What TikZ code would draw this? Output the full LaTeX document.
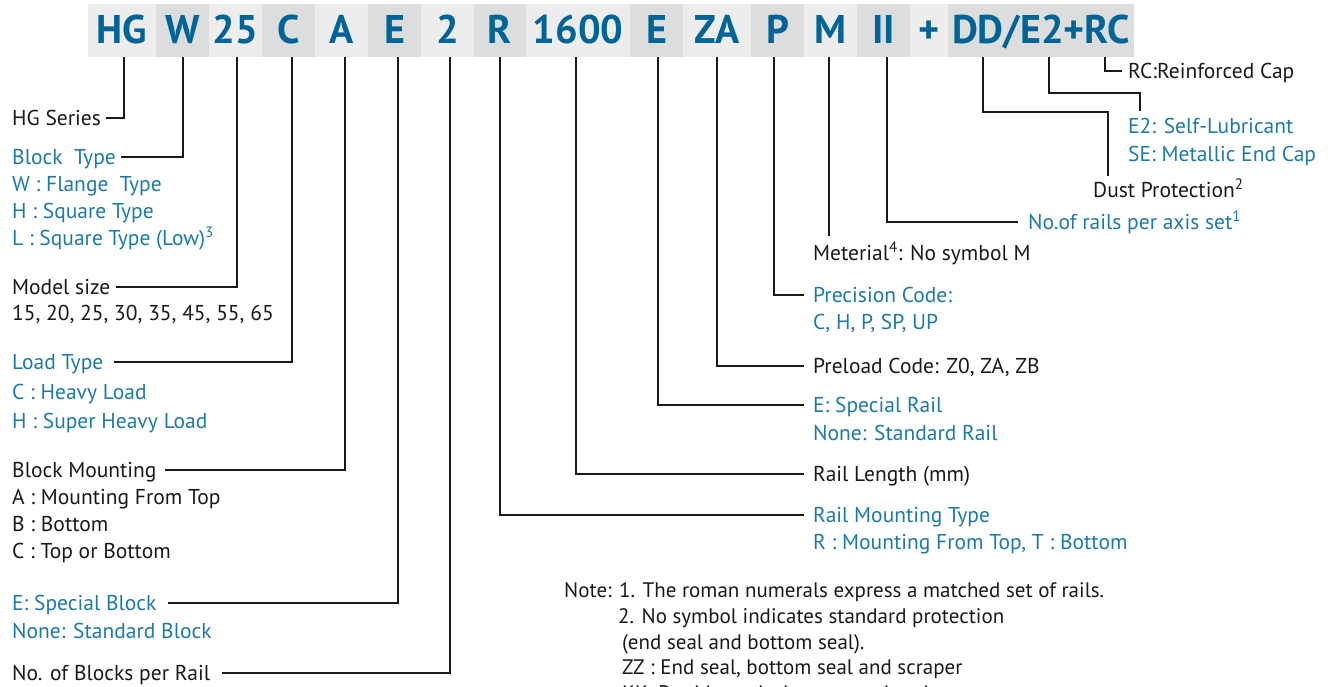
\documentclass[tikz,border=0pt]{standalone}
\usepackage{fontspec}
\newfontfamily\labfont{PT Sans}
\usetikzlibrary{calc}
\definecolor{hblue}{RGB}{0,101,150}
\definecolor{lblue}{RGB}{28,122,168}
\definecolor{boxlight}{RGB}{237,237,237}
\definecolor{boxdark}{RGB}{220,221,221}
\definecolor{ink}{RGB}{25,25,25}
\tikzset{
  hbox/.style={inner sep=0pt, minimum height=53pt, text height=28pt, text depth=3pt,
    font=\labfont\bfseries\fontsize{40}{44}\selectfont, text=hblue},
  lt/.style={fill=boxlight}, dk/.style={fill=boxdark},
  lbl/.style={inner sep=0pt, text height=15pt, text depth=0pt,
    font=\labfont\fontsize{21.5}{25}\selectfont, text=ink},
  bl/.style={lbl, text=lblue},
  note/.style={lbl, font=\labfont\fontsize{21}{25}\selectfont},
  conn/.style={draw=ink, line width=1.3pt},
}
\begin{document}
\begin{tikzpicture}[x=1pt,y=-1pt]
\useasboundingbox (0,0) rectangle (1341,686);
\begin{scope}
\clip (0,0) rectangle (1341,686);
% header boxes
\node[hbox,lt,minimum width=68pt] (bHG) at (122,30.5) {HG};
\node[hbox,dk,minimum width=53pt] (bW) at (182.5,30.5) {W};
\node[hbox,lt,minimum width=53pt] (b25) at (235.5,30.5) {25};
\node[hbox,dk,minimum width=53pt] (bC) at (288.5,30.5) {C};
\node[hbox,lt,minimum width=53pt] (bA) at (341.5,30.5) {A};
\node[hbox,dk,minimum width=53pt] (bE) at (394.5,30.5) {E};
\node[hbox,lt,minimum width=53pt] (b2) at (447.5,30.5) {2};
\node[hbox,dk,minimum width=52pt] (bR) at (500,30.5) {R};
\node[hbox,lt,minimum width=104pt] (b1600) at (578,30.5) {1600};
\node[hbox,dk,minimum width=53pt] (bRE) at (656.5,30.5) {E};
\node[hbox,lt,minimum width=68pt] (bZA) at (717,30.5) {ZA};
\node[hbox,dk,minimum width=53pt] (bP) at (777.5,30.5) {P};
\node[hbox,lt,minimum width=53pt] (bM) at (830.5,30.5) {M};
\node[hbox,dk,minimum width=53pt] (bII) at (883.5,30.5) {II};
\node[hbox,lt,minimum width=38pt] (bPlus) at (929,30.5) {+};
\node[hbox,dk,minimum width=186pt] (bDD) at (1041,30.5) {DD/E2+RC};
% tick coordinates at band bottom
\coordinate (tHG) at (124,57);
\coordinate (tW) at (183,57);
\coordinate (t25) at (237,57);
\coordinate (tC) at (292,57);
\coordinate (tA) at (345,57);
\coordinate (tE) at (398,57);
\coordinate (t2) at (450,57);
\coordinate (tR) at (500,57);
\coordinate (t1600) at (576,57);
\coordinate (tRE) at (658,57);
\coordinate (tZA) at (717,57);
\coordinate (tP) at (774,57);
\coordinate (tM) at (829,57);
\coordinate (tII) at (887,57);
\coordinate (tDD) at (983,57);
\coordinate (tE2) at (1049,57);
\coordinate (tRC) at (1105,57);
% left labels
\node[lbl,anchor=west] (lHG) at (12,118) {HG Series};
\node[bl,anchor=west] (lW) at (12,157) {Block~~Type};
\node[bl,anchor=west] (lW1) at (12,184) {W : Flange~~Type};
\node[bl,anchor=west] (lW2) at (12,211) {H : Square Type};
\node[bl,anchor=west] (lW3) at (12,238) {L : Square Type (Low)\textsuperscript{3}};
\node[lbl,anchor=west] (l25) at (12,287) {Model size};
\node[lbl,anchor=west] (l25a) at (12,313) {15, 20, 25, 30, 35, 45, 55, 65};
\node[bl,anchor=west] (lC) at (12,362) {Load Type};
\node[bl,anchor=west] (lC1) at (12,392) {C : Heavy Load};
\node[bl,anchor=west] (lC2) at (12,421) {H : Super Heavy Load};
\node[lbl,anchor=west] (lA) at (12,470) {Block Mounting};
\node[lbl,anchor=west] (lA1) at (12,497) {A : Mounting From Top};
\node[lbl,anchor=west] (lA2) at (12,524) {B : Bottom};
\node[lbl,anchor=west] (lA3) at (12,551) {C : Top or Bottom};
\node[bl,anchor=west] (lE) at (12,603) {E: Special Block};
\node[bl,anchor=west] (lE1) at (12,631) {None: Standard Block};
\node[lbl,anchor=west] (l2) at (12,673) {No. of Blocks per Rail};
% right labels
\node[lbl,anchor=west] (rRC) at (1128,71) {RC:Reinforced Cap};
\node[bl,anchor=west] (rE2) at (1128,126) {E2: Self-Lubricant};
\node[bl,anchor=west] (rSE) at (1128,154) {SE: Metallic End Cap};
\node[lbl,anchor=west] (rDust) at (1093,190) {Dust Protection\textsuperscript{2}};
\node[bl,anchor=west] (rII) at (1028,222) {No.of rails per axis set\textsuperscript{1}};
\node[lbl,anchor=west] (rM) at (813,253) {Meterial\textsuperscript{4}: No symbol M};
\node[bl,anchor=west] (rP) at (813,295) {Precision Code:};
\node[bl,anchor=west] (rP1) at (813,322) {C, H, P, SP, UP};
\node[lbl,anchor=west] (rZA) at (813,366) {Preload Code: Z0, ZA, ZB};
\node[bl,anchor=west] (rRE) at (813,405) {E: Special Rail};
\node[bl,anchor=west] (rRE1) at (813,433) {None: Standard Rail};
\node[lbl,anchor=west] (r1600) at (813,474) {Rail Length (mm)};
\node[bl,anchor=west] (rR) at (813,515) {Rail Mounting Type};
\node[bl,anchor=west] (rR1) at (813,542) {R : Mounting From Top, T : Bottom};
% notes
\node[note,anchor=west] (n1) at (564,590) {Note: 1. The roman numerals express a matched set of rails.};
\node[note,anchor=west] (n2) at (618,616) {2. No symbol indicates standard protection};
\node[note,anchor=west] (n3) at (622,642) {(end seal and bottom seal).};
\node[note,anchor=west] (n4) at (622,667) {ZZ : End seal, bottom seal and scraper};
\node[note,anchor=west] (n5) at (622,693) {KK: Double seals, bottom seal and scraper};
% connectors left
\draw[conn] ([xshift=5pt]lHG.east) -| (tHG);
\draw[conn] ([xshift=5pt]lW.east) -| (tW);
\draw[conn] ([xshift=6pt]l25.east) -| (t25);
\draw[conn] ([xshift=11pt]lC.east) -| (tC);
\draw[conn] ([xshift=8pt]lA.east) -| (tA);
\draw[conn] ([xshift=11pt]lE.east) -| (tE);
\draw[conn] ([xshift=12pt]l2.east) -| (t2);
% connectors right
\draw[conn] (tR) |- ([xshift=-9pt]rR.west);
\draw[conn] (t1600) |- ([xshift=-9pt]r1600.west);
\draw[conn] (tRE) |- ([xshift=-9pt]rRE.west);
\draw[conn] (tZA) |- ([xshift=-9pt]rZA.west);
\draw[conn] (tP) |- ([xshift=-9pt]rP.west);
\draw[conn] (tM) -- ([yshift=9pt]tM |- rM.north);
\draw[conn] (tII) |- ([xshift=-10pt]rII.west);
\coordinate (kDD) at (1108,112);
\draw[conn] (tDD) |- (kDD) -- ([yshift=6pt]kDD |- rDust.north);
\coordinate (kE2) at (1140,93);
\draw[conn] (tE2) |- (kE2) -- ([yshift=7pt]kE2 |- rE2.north);
\draw[conn] (tRC) |- ([xshift=-6pt]rRC.west);
\end{scope}
\end{tikzpicture}
\end{document}
